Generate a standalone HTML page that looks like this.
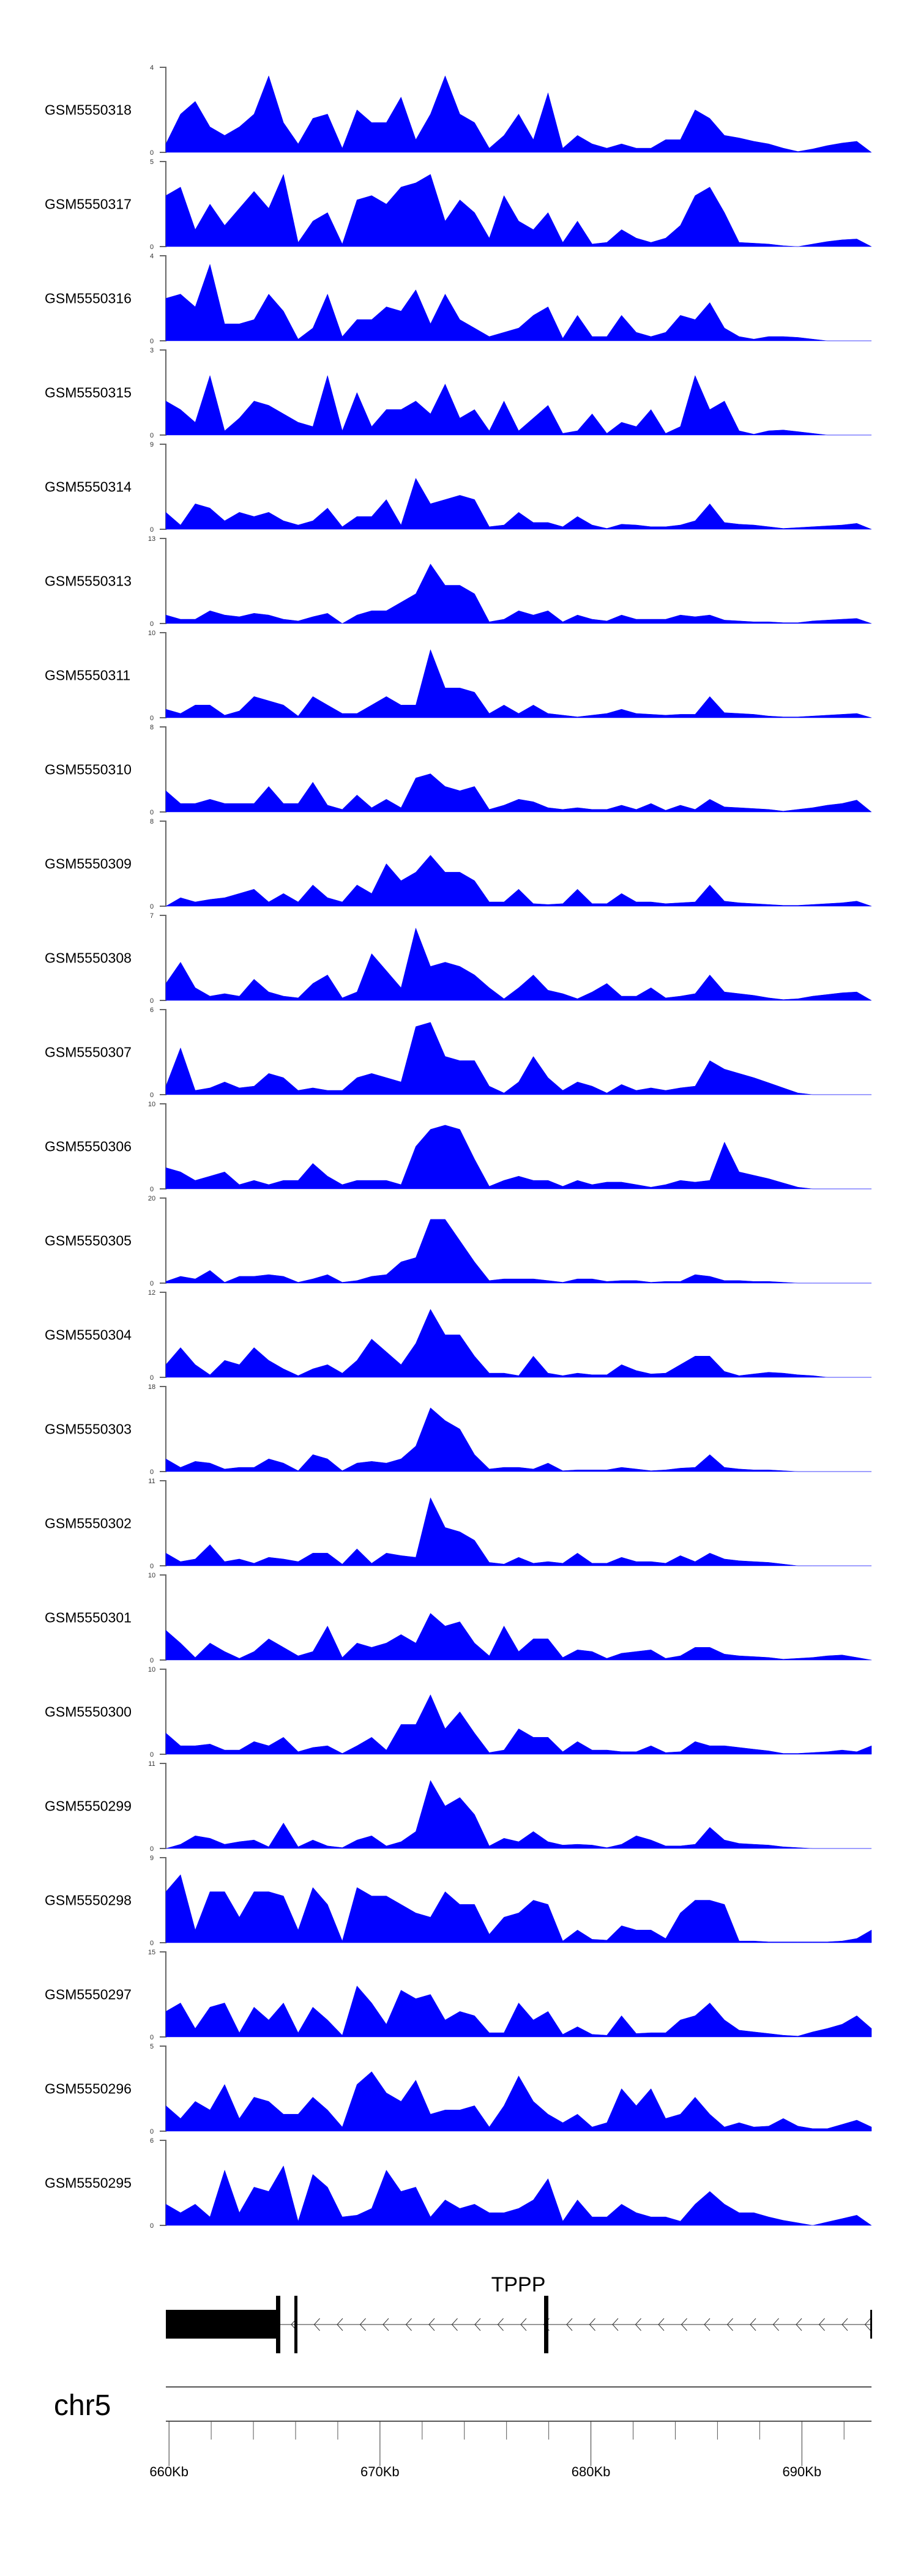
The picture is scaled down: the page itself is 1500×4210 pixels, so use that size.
<!DOCTYPE html>
<html><head><meta charset="utf-8"><title>Coverage tracks chr5 TPPP</title>
<style>html,body{margin:0;padding:0;background:#fff}svg{display:block}</style></head>
<body>
<svg id="chart" xmlns="http://www.w3.org/2000/svg" width="1500" height="4210" viewBox="0 0 1500 4210" font-family="Liberation Sans, sans-serif">
<g id="tracks"></g>
<g id="gene"></g>
<g id="axis"></g>
</svg>
<script>
// Sample names (top to bottom)
const samples = ["GSM5550318","GSM5550317","GSM5550316","GSM5550315","GSM5550314","GSM5550313","GSM5550311","GSM5550310","GSM5550309","GSM5550308","GSM5550307","GSM5550306","GSM5550305","GSM5550304","GSM5550303","GSM5550302","GSM5550301","GSM5550300","GSM5550299","GSM5550298","GSM5550297","GSM5550296","GSM5550295"];
// y-axis max tick labels per track
const yMax = [4,5,4,3,9,13,10,8,8,7,6,10,20,12,18,11,10,10,11,9,15,5,6];
// coverage per track, as % of the track's axis max, evenly spaced over 659.85–693.3 Kb
const cov318=[10,45,60,30,20,30,45,90,35,10,40,45,5,50,35,35,65,15,45,90,45,35,5,20,45,15,70,5,20,10,5,10,5,5,15,15,50,40,20,17,13,10,5,1,4,8,11,13,0];
const cov317=[60,70,20,50,25,45,65,45,85,5,30,40,3,55,60,50,70,75,85,30,55,40,10,60,30,20,40,5,30,3,5,20,10,5,10,25,60,70,40,5,4,3,1,0,3,6,8,9,0];
const cov316=[50,55,40,90,20,20,25,55,35,2,15,55,5,25,25,40,35,60,20,55,25,15,5,10,15,30,40,3,30,5,5,30,10,5,10,30,25,45,15,5,2,5,5,4,2,0,0,0,0];
const cov315=[40,30,15,70,5,20,40,35,25,15,10,70,5,50,10,30,30,40,25,60,20,30,5,40,5,20,35,2,5,25,2,15,10,30,2,10,70,30,40,5,1,5,6,4,2,0,0,0,0];
const cov314=[20,5,30,25,10,20,15,20,10,5,10,25,3,15,15,35,5,60,30,35,40,35,3,5,20,8,8,3,15,5,1,6,5,3,3,5,10,30,8,6,5,3,1,2,3,4,5,7,0];
const cov313=[10,5,5,15,10,8,12,10,5,3,8,12,0,10,15,15,25,35,70,45,45,35,2,5,15,10,15,2,10,5,3,10,5,5,5,10,8,10,4,3,2,2,1,1,3,4,5,6,0];
const cov311=[10,5,15,15,3,8,25,20,15,2,25,15,5,5,15,25,15,15,80,35,35,30,5,15,5,15,5,3,1,3,5,10,5,4,3,4,4,25,6,5,4,2,1,1,2,3,4,5,0];
const cov310=[25,10,10,15,10,10,10,30,10,10,35,8,3,20,5,15,5,40,45,30,25,30,3,8,15,12,5,3,5,3,3,8,3,10,2,8,3,15,6,5,4,3,1,3,5,8,10,14,0];
const cov309=[0,10,5,8,10,15,20,5,15,5,25,10,5,25,15,50,30,40,60,40,40,30,5,5,20,3,2,3,20,3,3,15,5,5,3,4,5,25,6,4,3,2,1,1,2,3,4,6,0];
const cov308=[20,45,15,5,8,5,25,10,5,3,20,30,3,10,55,35,15,85,40,45,40,30,15,2,15,30,12,8,2,10,20,5,5,15,3,5,8,30,10,8,6,3,1,2,5,7,9,10,0];
const cov307=[10,55,5,8,15,8,10,25,20,5,8,5,5,20,25,20,15,80,85,45,40,40,10,2,15,45,20,5,15,10,2,12,5,8,5,8,10,40,30,25,20,14,8,2,0,0,0,0,0];
const cov306=[25,20,10,15,20,5,10,5,10,10,30,15,5,10,10,10,5,50,70,75,70,35,3,10,15,10,10,3,10,5,8,8,5,2,5,10,8,10,55,20,16,12,7,2,0,0,0,0,0];
const cov305=[2,8,5,15,1,8,8,10,8,1,5,10,1,3,8,10,25,30,75,75,50,25,3,5,5,5,3,1,5,5,2,3,3,1,2,2,10,8,3,3,2,2,1,0,0,0,0,0,0];
const cov304=[15,35,15,3,20,15,35,20,10,2,10,15,5,20,45,30,15,40,80,50,50,25,5,5,2,25,5,2,5,3,3,15,8,4,5,15,25,25,7,2,4,6,5,3,2,0,0,0,0];
const cov303=[15,5,12,10,3,5,5,15,10,1,20,15,1,10,12,10,15,30,75,60,50,20,3,5,5,3,10,1,2,2,2,5,3,1,2,4,5,20,5,3,2,2,1,0,0,0,0,0,0];
const cov302=[15,5,8,25,5,8,3,10,8,5,15,15,2,20,3,15,12,10,80,45,40,30,4,2,10,3,5,3,15,3,3,10,5,5,3,12,5,15,8,6,5,4,2,0,0,0,0,0,0];
const cov301=[35,20,3,20,10,2,10,25,15,5,10,40,3,20,15,20,30,20,55,40,45,20,5,40,10,25,25,3,12,10,2,8,10,12,2,5,15,15,7,5,4,3,1,2,3,5,6,3,0];
const cov300=[25,10,10,12,5,5,15,10,20,3,8,10,1,10,20,5,35,35,70,30,50,25,2,5,30,20,20,3,15,5,5,3,3,10,2,3,15,10,10,8,6,4,1,1,2,3,5,3,10];
const cov299=[0,5,15,12,5,8,10,2,30,2,10,3,1,10,15,3,8,20,80,50,60,40,3,12,8,20,8,4,5,4,1,5,15,10,3,3,5,25,10,6,5,4,2,1,0,0,0,0,0];
const cov298=[60,80,15,60,60,30,60,60,55,15,65,45,2,65,55,55,45,35,30,60,45,45,10,30,35,50,45,2,15,4,3,20,15,15,5,35,50,50,45,2,2,1,1,1,1,1,2,5,15];
const cov297=[30,40,10,35,40,5,35,20,40,5,35,20,2,60,40,15,55,45,50,20,30,25,5,5,40,20,30,3,12,3,2,25,4,5,5,20,25,40,20,8,6,4,2,1,6,10,15,25,10];
const cov296=[30,15,35,25,55,15,40,35,20,20,40,25,5,55,70,45,35,60,20,25,25,30,5,30,65,35,20,10,20,5,10,50,30,50,15,20,40,20,5,10,5,6,15,6,3,3,8,13,5];
const cov295=[25,15,25,10,65,15,45,40,70,5,60,45,10,12,20,65,40,45,10,30,20,25,15,15,20,30,55,5,30,10,10,25,15,10,10,5,25,40,25,15,15,10,6,3,0,4,8,12,0];
const coverage=[cov318,cov317,cov316,cov315,cov314,cov313,cov311,cov310,cov309,cov308,cov307,cov306,cov305,cov304,cov303,cov302,cov301,cov300,cov299,cov298,cov297,cov296,cov295];
// genome axis
const axisLabels=["660Kb","670Kb","680Kb","690Kb"];
const majorKb=[660,670,680,690];
const minorKb=[662,664,666,668,672,674,676,678,682,684,686,688,692];
const startKb=659.85, endKb=693.3;

const NS='http://www.w3.org/2000/svg';
function mk(tag,attrs,parent){const e=document.createElementNS(NS,tag);for(const k in attrs)e.setAttribute(k,attrs[k]);parent.appendChild(e);return e;}
const X0=271, X1=1424;
function xKb(kb){return X0+(kb-startKb)/(endKb-startKb)*(X1-X0);}
const tracksG=document.getElementById('tracks');
const TOP=110, STEP=154, H=139;
samples.forEach((name,t)=>{
  const top=TOP+t*STEP, bot=top+H;
  const g=mk('g',{},tracksG);
  
  
  const lab=mk('text',{x:73,y:top+H/2+8,'font-size':23,fill:'#000'},g);
  lab.textContent=name;
  
  
  const ax=mk('path',{d:`M${X0-10} ${top}H${X0}V${bot}H${X0-10}`,stroke:'#666',fill:'none','stroke-width':2},g);
  
  
  const tMax=mk('text',{x:248,y:top+4,'font-size':11,fill:'#333','text-anchor':'middle'},g);
  tMax.textContent=yMax[t];
  
  
  const t0=mk('text',{x:248,y:bot+4,'font-size':11,fill:'#333','text-anchor':'middle'},g);
  t0.textContent='0';
  
  
  const vals=coverage[t], n=vals.length;
  let d=`M${X0} ${bot}`;
  vals.forEach((v,i)=>{const x=X0+i/(n-1)*(X1-X0);const y=bot-Math.min(v,100)/100*H;d+=`L${x.toFixed(1)} ${y.toFixed(1)}`;});
  d+=`L${X1} ${bot}Z`;
  const area=mk('path',{d:d,fill:'#0000ff',stroke:'#0000ff','stroke-width':0.5},g);
  
  
});
// gene model
const geneG=document.getElementById('gene');
const gl=mk('text',{x:847,y:3745,'font-size':34,'text-anchor':'middle',fill:'#000'},geneG);
gl.textContent='TPPP';


const intr=mk('line',{x1:455,y1:3799,x2:1424,y2:3799,stroke:'#999','stroke-width':2},geneG);


for(let x=476;x<1420;x+=37.5){
  const c=mk('polyline',{points:`${x+9},${3789} ${x},${3799} ${x+9},${3809}`,fill:'none',stroke:'#333','stroke-width':1},geneG);
  
  
}
const exons=[[271,3775,180,47],[451,3752,7,94],[481,3752,5,94],[889,3752,7,94],[1422,3775,3,47]];
exons.forEach(e=>{const r=mk('rect',{x:e[0],y:e[1],width:e[2],height:e[3],fill:'#000'},geneG);
  
  });
// axis
const axG=document.getElementById('axis');
const chr=mk('text',{x:88,y:3947,'font-size':48,fill:'#000'},axG);
chr.textContent='chr5';


const cl=mk('line',{x1:271,y1:3901,x2:1424,y2:3901,stroke:'#555','stroke-width':2},axG);


const al=mk('line',{x1:271,y1:3957,x2:1424,y2:3957,stroke:'#555','stroke-width':2},axG);


minorKb.forEach(k=>{const l=mk('line',{x1:xKb(k),y1:3957,x2:xKb(k),y2:3987,stroke:'#555','stroke-width':1},axG);
  
  });
majorKb.forEach((k,i)=>{const l=mk('line',{x1:xKb(k),y1:3957,x2:xKb(k),y2:4030,stroke:'#333','stroke-width':1},axG);
  
  
  const tx=mk('text',{x:xKb(k),y:4047,'font-size':22,'text-anchor':'middle',fill:'#000'},axG);
  tx.textContent=axisLabels[i];
  
  });
</script>
</body></html>
